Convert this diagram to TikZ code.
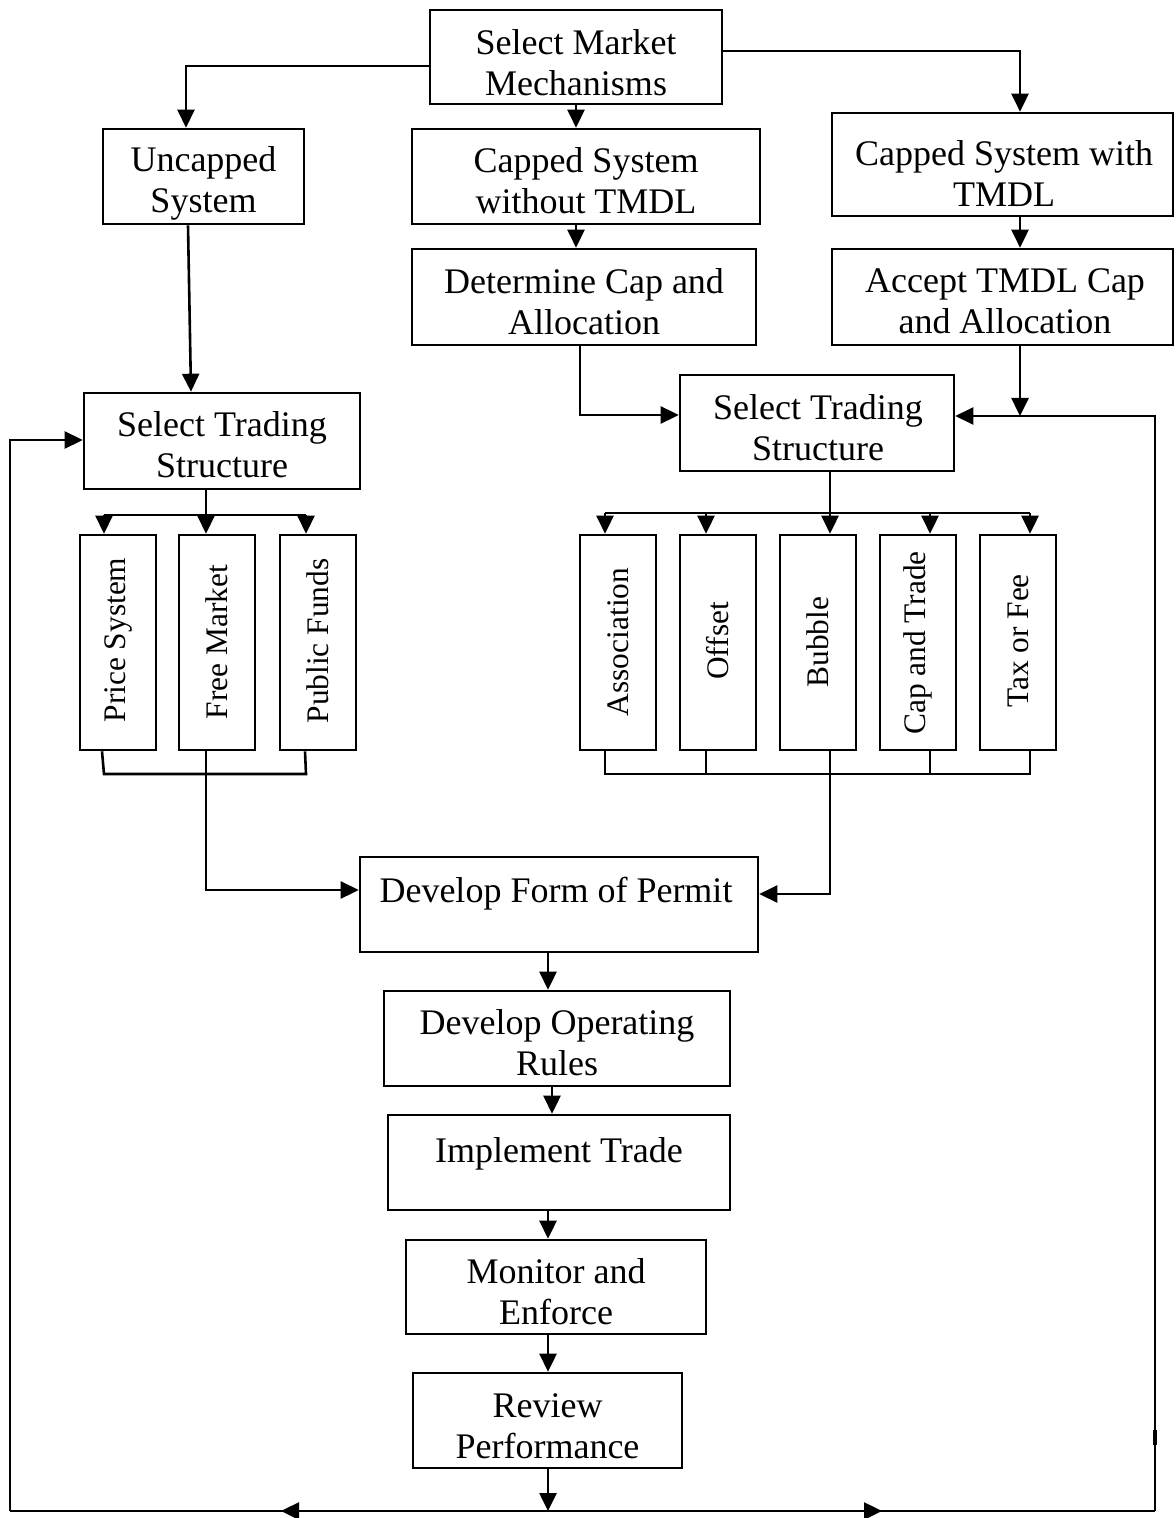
\documentclass[tikz,border=0pt]{standalone}
\usepackage{fontspec}
\setmainfont{Liberation Serif}
\usetikzlibrary{arrows.meta,calc}

\tikzset{
  box/.style={draw, line width=1.3pt, inner sep=0pt},
  vbox/.style={draw, line width=1.3pt, inner sep=0pt,
               minimum width=38pt, minimum height=107.5pt},
  vtxt/.style={rotate=90, inner sep=0pt, font=\fontsize{15.7}{18}\selectfont},
  txt/.style={inner sep=0pt, align=center, font=\fontsize{18}{20.5}\selectfont},
  wire/.style={line width=1.3pt},
  arr/.style={line width=1.3pt, -{Triangle[length=9pt,width=8.5pt]}},
}

\begin{document}
\begin{tikzpicture}[x=0.5pt,y=-0.5pt]
\useasboundingbox (0,0) rectangle (1175,1518);

% ---- top level ----
\node[box, minimum width=146pt, minimum height=47pt] (smm) at (576,57) {};
\node[txt] (smm-t) at (576,62.5) {Select Market\\Mechanisms};
\node[box, minimum width=100.5pt, minimum height=47.5pt] (unc) at (203.5,176.5) {};
\node[txt] (unc-t) at (203.5,183.5) {Uncapped\\System};
\node[box, minimum width=174pt, minimum height=47.5pt] (cwo) at (586,176.5) {};
\node[txt] (cwo-t) at (586,180.5) {Capped System\\without TMDL};
\node[box, minimum width=170.5pt, minimum height=51.5pt] (cwt) at (1002.5,164.5) {};
\node[txt] (cwt-t) at (1004,173.5) {Capped System with\\TMDL};
\node[box, minimum width=172pt, minimum height=48pt] (det) at (584,297) {};
\node[txt] (det-t) at (584,301.5) {Determine Cap and\\Allocation};
\node[box, minimum width=170.5pt, minimum height=48pt] (acc) at (1002.5,297) {};
\node[txt] (acc-t) at (1005,301.5) {Accept TMDL Cap\\and Allocation};
\node[box, minimum width=138pt, minimum height=48pt] (stl) at (222,441) {};
\node[txt] (stl-t) at (222,445) {Select Trading\\Structure};
\node[box, minimum width=137pt, minimum height=48pt] (str) at (817,423) {};
\node[txt] (str-t) at (818,427.5) {Select Trading\\Structure};

% ---- trading structures ----
\node[vbox] (ps) at (118,642.5) {};
\node[vtxt] (ps-t) at (118,640) {Price System};
\node[vbox] (fm) at (217,642.5) {};
\node[vtxt] (fm-t) at (217,642) {Free Market};
\node[vbox] (pf) at (318,642.5) {};
\node[vtxt] (pf-t) at (318,641) {Public Funds};

\node[vbox] (as) at (618,642.5) {};
\node[vtxt] (as-t) at (618,642) {Association};
\node[vbox] (of) at (718,642.5) {};
\node[vtxt] (of-t) at (718,641) {Offset};
\node[vbox] (bu) at (818,642.5) {};
\node[vtxt] (bu-t) at (818,642) {Bubble};
\node[vbox] (ct) at (918,642.5) {};
\node[vtxt] (ct-t) at (918,643) {Cap and Trade};
\node[vbox] (tf) at (1018,642.5) {};
\node[vtxt] (tf-t) at (1018,641) {Tax or Fee};

% ---- lower chain ----
\node[box, minimum width=199pt, minimum height=47.5pt] (dfp) at (559,904.5) {};
\node[txt] (dfp-t) at (556,894) {Develop Form of Permit};
\node[box, minimum width=173pt, minimum height=47.5pt] (dor) at (557,1038.5) {};
\node[txt] (dor-t) at (557,1043) {Develop Operating\\Rules};
\node[box, minimum width=171pt, minimum height=47.5pt] (it) at (559,1162.5) {};
\node[txt] (it-t) at (559,1154) {Implement Trade};
\node[box, minimum width=150pt, minimum height=47pt] (me) at (556,1287) {};
\node[txt] (me-t) at (556,1291.5) {Monitor and\\Enforce};
\node[box, minimum width=134.5pt, minimum height=47.5pt] (rp) at (547.5,1420.5) {};
\node[txt] (rp-t) at (547.5,1426) {Review\\Performance};

% ---- helper coordinates ----
\coordinate (spine) at (548,0);
\coordinate (spine2) at (552,0);
\coordinate (busL1) at (104,515);
\coordinate (busLm) at (206,515);
\coordinate (busL2) at (306,515);
\coordinate (busR1) at (605,513);
\coordinate (busR2) at (706,513);
\coordinate (busR3) at (830,513);
\coordinate (busR4) at (930,513);
\coordinate (busR5) at (1030,513);
\coordinate (brkL1) at (104,774);
\coordinate (brkLm) at (206,774);
\coordinate (brkL2) at (306,774);
\coordinate (brkR1) at (605,774);
\coordinate (brkR2) at (706,774);
\coordinate (brkR3) at (830,774);
\coordinate (brkR4) at (930,774);
\coordinate (brkR5) at (1030,774);
\coordinate (botL) at (10,1511);
\coordinate (botR) at (1155,1511);
\coordinate (tipL) at (281,1511);
\coordinate (tipR) at (882,1511);
\coordinate (fbR) at (1155,416);
\coordinate (accS) at ($(acc.south)+(17.5,0)$);

% ---- connectors: top level ----
\draw[arr] ($(smm.west)+(0,9)$) -| ($(unc.north)+(-17.5,0)$);
\draw[arr] ($(smm.east)+(0,-6)$) -| ($(cwt.north)+(17.5,0)$);
\draw[arr] (smm.south) -- (cwo.north -| smm.south);
\draw[arr] (cwo.south -| smm.south) -- (det.north -| smm.south);
\draw[arr] ($(cwt.south)+(17.5,0)$) -- ($(acc.north)+(17.5,0)$);
\draw[arr] ($(unc.south)+(-15.5,0)$) -- ($(stl.north)+(-31,0)$);
\draw[arr] ($(det.south)+(-4,0)$) |- ($(str.west)+(0,-8)$);
\draw[arr] (accS) -- (accS |- fbR);

% ---- fans to trading structures ----
\draw[wire] (stl.south -| busLm) -- (busLm);
\draw[wire] (busL1) -- (busL2);
\draw[arr] (busL1) -- (ps.north -| busL1);
\draw[arr] (busLm) -- (fm.north -| busLm);
\draw[arr] (busL2) -- (pf.north -| busL2);

\draw[wire] (str.south -| busR3) -- (busR3);
\draw[wire] (busR1) -- (busR5);
\draw[arr] (busR1) -- (as.north -| busR1);
\draw[arr] (busR2) -- (of.north -| busR2);
\draw[arr] (busR3) -- (bu.north -| busR3);
\draw[arr] (busR4) -- (ct.north -| busR4);
\draw[arr] (busR5) -- (tf.north -| busR5);

% ---- brackets into the permit box ----
\draw[wire] ($(ps.south)+(-16,0)$) -- (brkL1) -- (brkL2) -- ($(pf.south)+(-13,0)$);
\draw[arr] (fm.south -| brkLm) |- ($(dfp.west)+(0,-14.5)$);

\draw[wire] (as.south -| brkR1) -- (brkR1) -- (brkR5) -- (tf.south -| brkR5);
\draw[wire] (of.south -| brkR2) -- (brkR2);
\draw[wire] (ct.south -| brkR4) -- (brkR4);
\draw[arr] (bu.south -| brkR3) |- ($(dfp.east)+(0,-10.5)$);

% ---- lower chain ----
\draw[arr] (dfp.south -| spine) -- (dor.north -| spine);
\draw[arr] (dor.south -| spine2) -- (it.north -| spine2);
\draw[arr] (it.south -| spine) -- (me.north -| spine);
\draw[arr] (me.south -| spine) -- (rp.north -| spine);
\draw[arr] (rp.south -| spine) -- (botL -| spine);

% ---- feedback loop ----
\draw[wire] (botL) -- (botR);
\draw[arr] (botL -| spine) -- (tipL);
\draw[arr] (botL -| spine) -- (tipR);
\draw[arr] (botL) |- ($(stl.west)+(0,-1)$);
\draw[arr] (botR) |- (fbR) -- (str.east |- fbR);
\draw[line width=2.2pt] (1155,1430) -- (1155,1445);

\end{tikzpicture}
\end{document}
